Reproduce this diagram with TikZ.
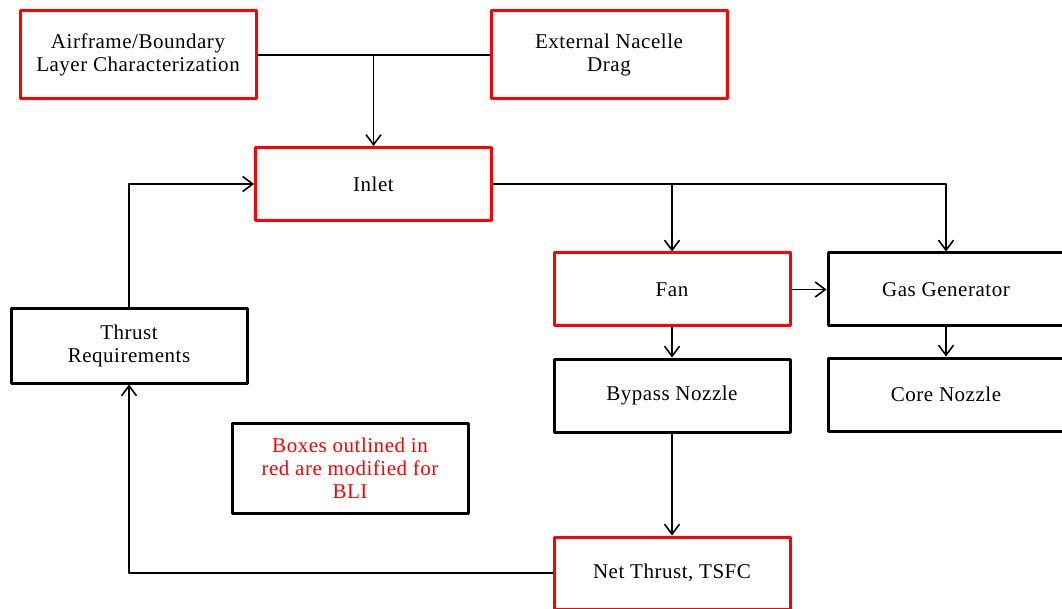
\documentclass[tikz,border=0pt]{standalone}
\usepackage{fontspec}
\setmainfont{Liberation Serif}[LetterSpace=2.5]
\usepackage{tikz}
\usetikzlibrary{arrows.meta}
\def\modColor{red}
\def\keepColor{black}

\begin{document}
\begin{tikzpicture}[x=1pt, y=-1pt, line cap=round, line join=round,
	baseBox/.style={draw, line width=3pt, minimum width=236pt, minimum height=73pt,
		align=center, inner sep=2pt, font=\fontsize{21}{23}\selectfont},
	redBox/.style={baseBox, draw=\modColor},
	blackBox/.style={baseBox, draw=\keepColor},
	flowLine/.style={line width=1.6pt, line cap=butt},
	flowArrow/.style={flowLine, -{Straight Barb[length=10pt, width=15pt, line width=1.6pt]}}]
	\useasboundingbox (0,0) rectangle (1062,609);
	\clip (0,0) rectangle (1062,609);
	% top row
	\node[redBox, minimum height=88pt] (airframe) at (138,55) {Airframe/Boundary\\Layer Characterization};
	\node[redBox, minimum height=88pt] (nacelle) at (609,55) {External Nacelle\\Drag};
	\node[redBox] (inlet) at (373.5,184) {Inlet};
	% engine components
	\node[redBox] (fan) at (672,289.5) {Fan};
	\node[blackBox] (gasGen) at (946,289.5) {Gas Generator};
	\node[blackBox] (bypass) at (672,395.5) {Bypass Nozzle};
	\node[blackBox] (core) at (946,394.5) {Core Nozzle};
	\node[redBox, minimum height=72pt] (netThrust) at (672,573) {Net Thrust, TSFC};
	% left side
	\node[blackBox, minimum height=74pt] (thrustReq) at (129,346) {Thrust\\Requirements};
	\node[blackBox, minimum height=90pt, text=\modColor] (legend) at (350,468) {Boxes outlined in\\red are modified for\\BLI};

	\draw[flowLine] (airframe.east) -- (nacelle.west);
	\draw[flowArrow] (inlet.north |- airframe.east) -- (inlet.north);
	\draw[flowArrow] (inlet.east) -| (gasGen.north);
	\draw[flowArrow] (inlet.east -| fan.north) -- (fan.north);
	\draw[flowArrow] (fan.east) -- (gasGen.west);
	\draw[flowArrow] (fan.south) -- (bypass.north);
	\draw[flowArrow] (gasGen.south) -- (core.north);
	\draw[flowArrow] (bypass.south) -- (netThrust.north);
	\draw[flowArrow] (netThrust.west) -| (thrustReq.south);
	\draw[flowArrow] (thrustReq.north) |- (inlet.west);
\end{tikzpicture}
\end{document}
